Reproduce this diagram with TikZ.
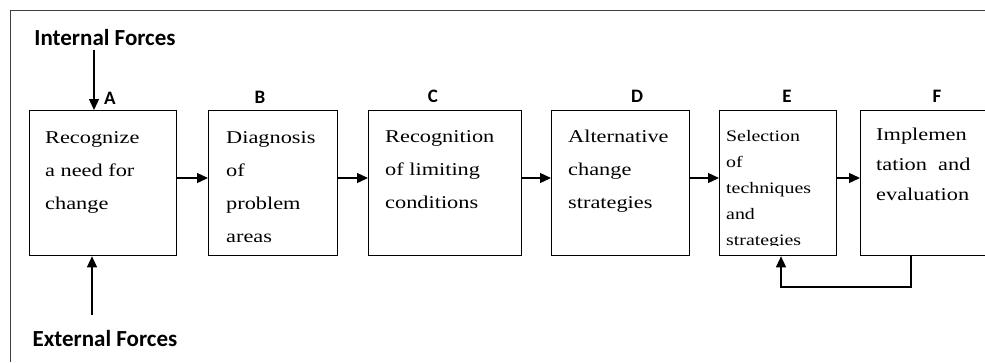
\documentclass[tikz,border=0pt]{standalone}
\usepackage{fontspec}
\usetikzlibrary{arrows.meta,calc}
\newfontfamily\boxfont[FakeStretch=1.24]{Liberation Serif}
\newfontfamily\labfont{Carlito}
\tikzset{
  stage/.style={draw=black,line width=1.3pt,rectangle,inner sep=0pt,anchor=north west},
  % placed by the baseline of the last line
  stagetext/.style={anchor=base west,align=left,inner sep=0pt,
    font=\boxfont\fontsize{18}{33}\selectfont},
  letter/.style={font=\labfont\bfseries\fontsize{19}{19}\selectfont,inner sep=0pt},
  force/.style={font=\labfont\bfseries\fontsize{23}{23}\selectfont,inner sep=0pt},
  flow/.style={line width=1.3pt,-{Triangle[length=11pt,width=10pt]}},
}
\begin{document}
\begin{tikzpicture}[x=1pt,y=-1pt]
\useasboundingbox (0,0) rectangle (985,362);
\clip (0,0) rectangle (985,362);
\fill[white] (0,0) rectangle (985,362);
% open frame: top and left edges only
\draw[line width=1pt,black!75] (985,10) -- (10,10) -- (10,362);

% stage boxes
\node[stage,minimum width=147pt,minimum height=145pt] (A) at (29,110) {};
\node[stage,minimum width=129pt,minimum height=145pt] (B) at (208,110) {};
\node[stage,minimum width=153pt,minimum height=145pt] (C) at (368,110) {};
\node[stage,minimum width=138pt,minimum height=145pt] (D) at (551,110) {};
\node[stage,minimum width=117pt,minimum height=145pt] (E) at (719,110) {};
\node[stage,minimum width=160pt,minimum height=145pt] (F) at (860,110) {};

% stage texts
\node[stagetext] (tA) at (45,209) {Recognize\\a need for\\change};
\node[stagetext] (tB) at (226,242) {Diagnosis\\of\\problem\\areas};
\node[stagetext] (tC) at (385,208) {Recognition\\of limiting\\conditions};
\node[stagetext] (tD) at (568,208) {Alternative\\change\\strategies};
% the last line of E runs past its text frame and is cut off
\begin{scope}
  \clip (E.north west) rectangle ([yshift=10.5pt]E.south east);
  \node[stagetext,font=\boxfont\fontsize{16}{26}\selectfont] (tE) at (726,245)
    {Selection\\of\\techniques\\and\\strategies};
\end{scope}
\node[stagetext,font=\boxfont\fontsize{18}{30}\selectfont] (tF) at (876,200)
  {Implemen\\tation\ \ and\\evaluation};

% stage letters
\node[letter] (lA) at (110,98) {A};
\node[letter] (lB) at (260,97) {B};
\node[letter] (lC) at (433,96) {C};
\node[letter] (lD) at (637,96) {D};
\node[letter] (lE) at (787,96) {E};
\node[letter] (lF) at (937,96) {F};

% forces
\node[force] (inf) at (105,38) {Internal Forces};
\node[force] (exf) at (105,339) {External Forces};
\coordinate (inT) at (94,50);
\coordinate (exB) at (92,315);
\draw[flow] (inT) -- (inT |- A.north);
\draw[flow] (exB) -- (exB |- A.south);

% flow between stages
\foreach \p/\q in {A/B,B/C,C/D,D/E,E/F}
  \draw[flow] (\p.east |- 0,178) -- (\q.west |- 0,178);

% feedback loop from F back to E
\coordinate (fb1) at (911,287);
\coordinate (fb2) at (781,287);
\draw[flow] (fb1 |- F.south) -- (fb1) -- (fb2) -- (fb2 |- E.south);
\end{tikzpicture}
\end{document}
